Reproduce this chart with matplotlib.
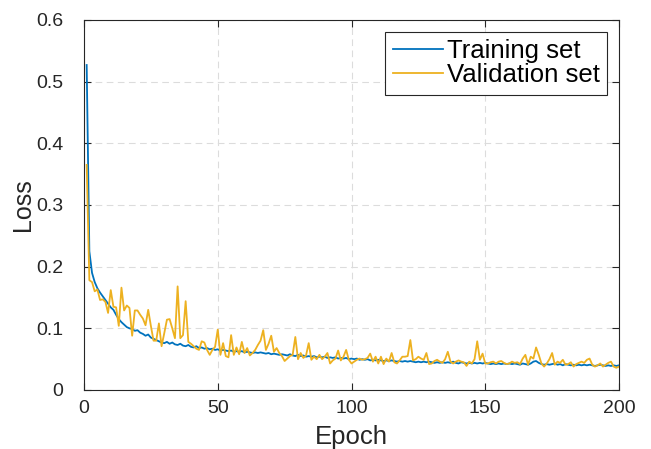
import matplotlib
matplotlib.use("Agg")
import matplotlib.pyplot as plt
import numpy as np
from matplotlib.ticker import FuncFormatter

epochs = list(range(1, 201))

training_loss = [
    0.527, 0.225, 0.190, 0.175, 0.165, 0.158, 0.152, 0.146, 0.140, 0.134,
    0.130, 0.122, 0.115, 0.110, 0.106, 0.102, 0.100, 0.099, 0.096, 0.097,
    0.093, 0.091, 0.088, 0.090, 0.085, 0.083, 0.081, 0.079, 0.077, 0.076,
    0.078, 0.075, 0.077, 0.074, 0.073, 0.075, 0.072, 0.071, 0.073, 0.070,
    0.069, 0.071, 0.068, 0.069, 0.067, 0.068, 0.066, 0.067, 0.065, 0.066,
    0.064, 0.065, 0.064, 0.063, 0.064, 0.062, 0.063, 0.062, 0.063, 0.061,
    0.062, 0.061, 0.060, 0.061, 0.060, 0.061, 0.060, 0.059, 0.060, 0.058,
    0.059, 0.058, 0.057, 0.058, 0.057, 0.056, 0.058, 0.056, 0.055, 0.057,
    0.055, 0.056, 0.054, 0.055, 0.054, 0.055, 0.053, 0.054, 0.053, 0.054,
    0.052, 0.053, 0.052, 0.053, 0.051, 0.052, 0.051, 0.052, 0.050, 0.051,
    0.050, 0.051, 0.049, 0.050, 0.049, 0.050, 0.048, 0.049, 0.048, 0.049,
    0.048, 0.047, 0.048, 0.047, 0.048, 0.047, 0.046, 0.047, 0.046, 0.047,
    0.046, 0.047, 0.046, 0.045, 0.046, 0.045, 0.046, 0.045, 0.046, 0.045,
    0.044, 0.045, 0.044, 0.045, 0.044, 0.045, 0.044, 0.046, 0.044, 0.043,
    0.045, 0.044, 0.043, 0.044, 0.043, 0.044, 0.043, 0.044, 0.043, 0.044,
    0.043, 0.042, 0.043, 0.042, 0.043, 0.042, 0.043, 0.042, 0.043, 0.042,
    0.043, 0.042, 0.041, 0.043, 0.042, 0.041, 0.043, 0.046, 0.047, 0.044,
    0.042, 0.041, 0.042, 0.041, 0.042, 0.043, 0.041, 0.042, 0.040, 0.042,
    0.041, 0.040, 0.041, 0.040, 0.041, 0.040, 0.041, 0.040, 0.041, 0.040,
    0.039, 0.040, 0.041, 0.040, 0.039, 0.040, 0.039, 0.040, 0.039, 0.040,
]

validation_loss = [
    0.365, 0.178, 0.175, 0.160, 0.163, 0.146, 0.147, 0.143, 0.125, 0.162,
    0.135, 0.134, 0.104, 0.166, 0.129, 0.137, 0.133, 0.088, 0.129, 0.129,
    0.122, 0.116, 0.105, 0.130, 0.104, 0.080, 0.080, 0.108, 0.071, 0.092,
    0.114, 0.115, 0.100, 0.084, 0.168, 0.084, 0.089, 0.144, 0.078, 0.075,
    0.071, 0.067, 0.065, 0.079, 0.077, 0.065, 0.057, 0.065, 0.070, 0.098,
    0.057, 0.076, 0.055, 0.053, 0.089, 0.057, 0.069, 0.058, 0.078, 0.060,
    0.068, 0.056, 0.060, 0.065, 0.073, 0.080, 0.097, 0.065, 0.075, 0.088,
    0.062, 0.068, 0.060, 0.055, 0.047, 0.051, 0.055, 0.057, 0.086, 0.050,
    0.060, 0.052, 0.056, 0.076, 0.049, 0.054, 0.050, 0.057, 0.050, 0.054,
    0.060, 0.043, 0.048, 0.051, 0.064, 0.048, 0.054, 0.065, 0.049, 0.043,
    0.046, 0.049, 0.051, 0.049, 0.050, 0.052, 0.059, 0.046, 0.054, 0.043,
    0.054, 0.042, 0.051, 0.046, 0.060, 0.045, 0.043, 0.048, 0.054, 0.054,
    0.055, 0.081, 0.048, 0.050, 0.054, 0.051, 0.049, 0.060, 0.042, 0.043,
    0.047, 0.049, 0.046, 0.044, 0.050, 0.062, 0.046, 0.043, 0.046, 0.048,
    0.046, 0.045, 0.039, 0.046, 0.043, 0.050, 0.079, 0.049, 0.059, 0.043,
    0.043, 0.045, 0.046, 0.043, 0.046, 0.047, 0.044, 0.042, 0.043, 0.046,
    0.044, 0.045, 0.042, 0.051, 0.057, 0.041, 0.054, 0.051, 0.069, 0.057,
    0.043, 0.038, 0.043, 0.050, 0.060, 0.041, 0.046, 0.044, 0.049, 0.041,
    0.042, 0.045, 0.038, 0.042, 0.044, 0.046, 0.044, 0.049, 0.051, 0.041,
    0.038, 0.040, 0.043, 0.038, 0.041, 0.044, 0.046, 0.038, 0.036, 0.038,
]

x_ticks = [0, 50, 100, 150, 200]
y_ticks = [0, 0.1, 0.2, 0.3, 0.4, 0.5, 0.6]
series_names = ["Training set", "Validation set"]

plt.rcParams['font.family'] = ['Liberation Sans', 'DejaVu Sans']

fig = plt.figure(figsize=(6.51, 4.49), dpi=100)
ax = fig.add_axes([84/651, 59/449, 535/651, 370/449])

ax.plot(epochs, training_loss, color='#0072BD', lw=1.3, label=series_names[0])
ax.plot(epochs, validation_loss, color='#EDB120', lw=1.3, label=series_names[1])

ax.set_xlim(0, 200)
ax.set_ylim(0, 0.6)
ax.set_xticks(x_ticks)
ax.set_yticks(y_ticks)
ax.yaxis.set_major_formatter(FuncFormatter(lambda v, p: "0" if v == 0 else f"{v:g}"))

ax.grid(True, linestyle=(0, (6, 4)), color='#dcdcdc', lw=0.8)
ax.set_axisbelow(True)

for s in ax.spines.values():
    s.set_color('#262626')
    s.set_linewidth(0.8)
ax.tick_params(direction='in', length=5, width=0.8, colors='#262626',
               labelsize=14, top=True, right=True)
ax.tick_params(axis='y', pad=15)
ax.tick_params(axis='x', pad=7)

ax.set_xlabel('Epoch', fontsize=18.5, color='#262626', labelpad=6)
ax.set_ylabel('Loss', fontsize=18, color='#262626', labelpad=1)

leg = ax.legend(loc='upper right', fontsize=18.5, frameon=True, fancybox=False,
                edgecolor='#262626', framealpha=1, handlelength=1.95,
                handletextpad=0.15, borderpad=0.3, labelspacing=0.0,
                borderaxespad=0.45)
leg.get_frame().set_linewidth(0.8)

fig.savefig('out.png', dpi=100)
